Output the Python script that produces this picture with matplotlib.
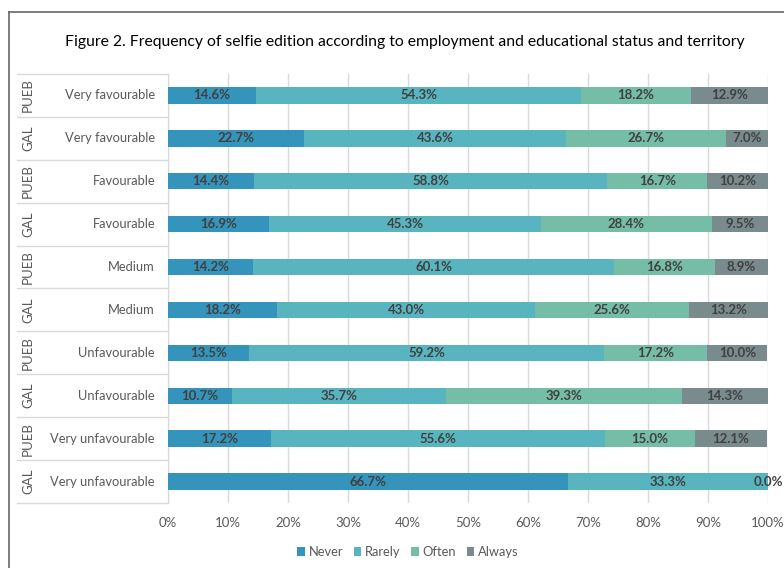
import numpy as np
import matplotlib
matplotlib.use("Agg")
import matplotlib.pyplot as plt
from matplotlib import transforms
from matplotlib.lines import Line2D
from matplotlib.patches import Patch

plt.rcParams['font.family'] = ['Lato', 'DejaVu Sans']

# rows from top to bottom
territory = ["PUEB", "GAL", "PUEB", "GAL", "PUEB", "GAL", "PUEB", "GAL", "PUEB", "GAL"]
status = ["Very favourable", "Very favourable", "Favourable", "Favourable",
          "Medium", "Medium", "Unfavourable", "Unfavourable",
          "Very unfavourable", "Very unfavourable"]

series = ["Never", "Rarely", "Often", "Always"]
never = [14.6, 22.7, 14.4, 16.9, 14.2, 18.2, 13.5, 10.7, 17.2, 66.7]
rarely = [54.3, 43.6, 58.8, 45.3, 60.1, 43.0, 59.2, 35.7, 55.6, 33.3]
often = [18.2, 26.7, 16.7, 28.4, 16.8, 25.6, 17.2, 39.3, 15.0, 0.0]
always = [12.9, 7.0, 10.2, 9.5, 8.9, 13.2, 10.0, 14.3, 12.1, 0.0]
colors = ["#3594BB", "#58B5BF", "#75BDA6", "#7A8B8D"]

title = "Figure 2. Frequency of selfie edition according to employment and educational status and territory"

W, H = 784, 568
fig = plt.figure(figsize=(W / 100, H / 100), dpi=100)
ax = fig.add_axes([168 / W, 1 - 503 / H, 600 / W, (503 - 74) / H])

y = np.arange(len(status))
left = np.zeros(len(status))
for name, vals, c in zip(series, [never, rarely, often, always], colors):
    vals = np.array(vals)
    ax.barh(y, vals, left=left, height=0.38, color=c, label=name, zorder=3)
    for yi, l, v in zip(y, left, vals):
        if v == 0 and name == "Always":
            continue
        ax.text(l + v / 2, yi, f"{v:.1f}%", ha="center", va="center",
                fontsize=9.5, fontweight="bold", color="#404040", zorder=4)
    left += vals

ax.set_xlim(0, 100)
ax.set_ylim(len(status) - 0.5, -0.5)
ax.set_xticks(np.arange(0, 101, 10))
ax.set_xticklabels([f"{t}%" for t in range(0, 101, 10)])
ax.set_yticks([])
ax.tick_params(axis="x", length=0, pad=10, labelsize=9.5, labelcolor="#595959")
ax.grid(axis="x", color="#D9D9D9", linewidth=1, zorder=0)
for s in ["top", "right", "bottom"]:
    ax.spines[s].set_visible(False)
ax.spines["left"].set_color("#D9D9D9")

# category table on the left
tr = transforms.blended_transform_factory(ax.transAxes, ax.transData)
x0 = (17 - 168) / 600
for b in np.arange(-0.5, len(status), 1.0):
    ax.plot([x0, 0], [b, b], color="#D9D9D9", linewidth=1, transform=tr, clip_on=False)
for yi, t, s in zip(y, territory, status):
    ax.text((28 - 168) / 600, yi, t, rotation=90, ha="center", va="center",
            fontsize=9.5, color="#595959", transform=tr)
    ax.text((155 - 168) / 600, yi, s, ha="right", va="center",
            fontsize=9.3, color="#595959", transform=tr)

handles = [Patch(facecolor=c, label=n) for n, c in zip(series, colors)]
fig.legend(handles=handles, loc="center", bbox_to_anchor=(408 / W, 1 - 552 / H),
           ncol=4, frameon=False, fontsize=9.3, handlelength=0.6, handleheight=0.6,
           handletextpad=0.3, columnspacing=0.8, labelcolor="#595959")

fig.text(405 / W, 1 - 42 / H, title, ha="center", va="center", fontsize=11.3, color="black")

# outer frame
fig.add_artist(Line2D([9 / W, 9 / W], [0, 1 - 12 / H], color="#666666", linewidth=1.2))
fig.add_artist(Line2D([9 / W, 1], [1 - 12 / H, 1 - 12 / H], color="#666666", linewidth=1.2))

fig.savefig("out.png", dpi=100)
